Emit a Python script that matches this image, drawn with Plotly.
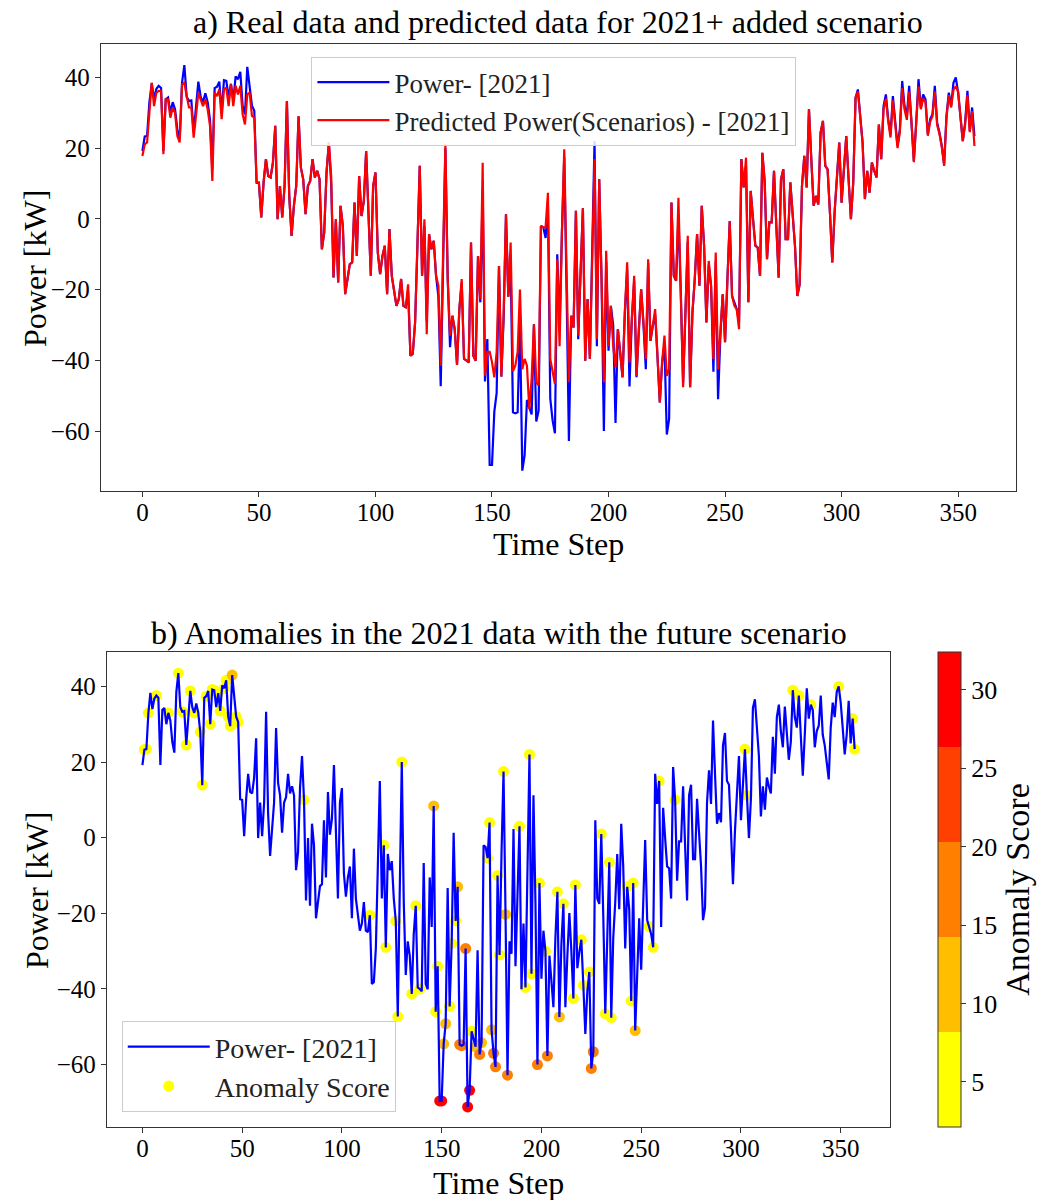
import plotly.graph_objects as go

# ---------------- data ----------------
time_step = list(range(358))

power_2021 = [
    19.2, 23.3, 23.4, 33.0, 38.3, 34.0, 36.8, 37.6, 37.0, 19.2,
    33.8, 34.3, 30.0, 33.0, 31.0, 25.3, 22.5, 38.5, 43.5, 34.5,
    33.3, 33.5, 24.5, 31.0, 38.8, 34.5, 33.0, 35.5, 33.0, 28.0,
    13.9, 37.0, 37.4, 38.8, 30.0, 39.2, 39.0, 34.5, 38.2, 33.5,
    40.3, 39.5, 41.6, 32.0, 29.5, 43.0, 38.0, 32.0, 30.6, 10.2,
    10.0, 0.4, 10.3, 16.9, 12.1, 11.7, 15.9, 26.3, -0.1, 9.3,
    0.4, 9.3, 33.3, 6.5, -4.8, 3.7, 9.3, 29.0, 14.5, 11.2,
    1.3, 9.3, 10.7, 16.9, 11.7, 13.6, 11.2, -8.6, -3.9, 13.1,
    21.6, 10.0, -16.6, -0.1, -18.0, 3.7, -2.0, -21.3, -17.0, -12.8,
    -12.3, 4.6, -10.5, 12.1, 0.8, 5.0, 19.2, 1.8, -16.1, 9.3,
    13.1, -9.5, -15.6, -10.5, -7.6, -21.3, -2.9, -16.1, -19.9, -24.6,
    -22.7, -17.0, -24.6, -25.0, -20.5, -38.7, -38.2, -29.3, -7.6, 15.0,
    -16.1, -2.0, -29.0, -4.3, -8.6, -6.2, -16.1, -22.0, -47.3, -12.0,
    20.0, -17.0, -36.3, -27.4, -31.2, -41.3, -25.5, -18.0, -39.6, -40.0,
    -40.6, -6.7, -38.7, -40.1, -10.5, -23.6, 8.4, -46.0, -34.0, -69.6,
    -69.6, -54.5, -49.2, -13.3, -44.6, -28.0, 1.3, -22.0, -13.0, -54.7,
    -55.0, -54.7, -29.3, -71.2, -66.8, -51.2, -53.3, -55.3, -29.8, -57.3,
    -54.2, -2.0, -2.4, -5.4, 4.0, -50.8, -57.0, -60.6, -10.0, -31.0,
    -3.9, 17.5, -20.3, -62.8, -27.4, -30.7, 2.3, -34.0, -15.2, 3.0,
    -40.1, -22.7, -39.6, -7.6, 22.0, -36.0, 11.2, -17.0, -60.0, -12.0,
    -37.3, -24.6, -30.0, -57.7, -31.2, -37.8, -44.8, -26.5, -14.3, -47.4,
    -28.3, -17.5, -44.8, -31.2, -19.9, -30.0, -42.5, -12.5, -34.5, -30.2,
    -27.0, -39.0, -51.9, -40.6, -35.5, -61.0, -56.6, 4.6, -16.1, -17.5,
    1.0, -20.8, -46.5, -26.5, -6.5, -47.6, -26.5, -17.0, -4.3, -18.9,
    3.7, -7.6, -29.3, -13.0, -18.9, -43.2, -12.0, -51.0, -33.0, -21.3,
    -34.9, -17.0, -0.6, -21.8, -23.5, -25.5, -29.0, 16.9, 8.9, 15.0,
    -23.6, 7.9, -0.1, -7.6, -8.1, -16.1, 18.7, 10.0, -11.4, -1.0,
    -1.0, 13.6, -2.0, -16.6, 11.2, 14.0, -5.7, -5.7, 10.3, 1.8,
    -7.6, -21.8, -18.5, 9.3, 17.8, 8.9, 31.0, 16.9, 3.7, 6.5,
    4.1, 24.4, 27.7, 15.0, 14.0, 1.8, -12.3, 1.8, 11.2, 21.6,
    4.6, 14.0, 23.4, 11.2, -0.1, 10.3, 34.3, 36.6, 29.0, 21.6,
    5.6, 13.6, 7.4, 15.9, 13.6, 11.7, 26.7, 16.9, 31.9, 35.2,
    28.2, 23.9, 34.7, 26.3, 20.6, 25.3, 39.0, 31.9, 29.1, 37.6,
    28.2, 16.4, 27.2, 39.5, 31.5, 35.2, 33.8, 23.9, 28.2, 29.6,
    37.6, 27.2, 24.4, 20.6, 15.4, 29.1, 35.7, 31.9, 38.5, 40.0,
    35.7, 29.1, 22.0, 27.2, 36.2, 24.9, 31.5, 23.4,
]

predicted_power = [
    17.8, 21.1, 21.6, 30.0, 38.5, 31.9, 35.7, 36.2, 36.2, 18.3,
    33.8, 33.8, 28.6, 31.5, 30.0, 23.4, 21.6, 38.0, 38.5, 34.7,
    31.5, 31.5, 23.0, 29.1, 35.7, 33.8, 31.9, 33.8, 31.0, 26.3,
    10.7, 35.7, 34.7, 36.6, 28.2, 36.6, 37.1, 31.9, 38.0, 31.9,
    37.6, 35.2, 37.6, 29.6, 26.7, 35.2, 35.7, 29.1, 28.6, 10.3,
    10.3, 0.4, 10.3, 16.9, 12.1, 11.7, 15.9, 26.3, -0.1, 9.3,
    0.4, 9.3, 33.3, 6.5, -4.8, 3.7, 9.3, 29.0, 14.5, 11.2,
    1.3, 9.3, 10.7, 16.9, 11.7, 13.6, 11.2, -8.6, -3.9, 13.1,
    21.6, 12.1, -16.6, -0.1, -18.0, 3.7, -2.0, -21.3, -17.0, -12.8,
    -12.3, 4.6, -10.5, 12.1, 0.8, 5.0, 19.2, 1.8, -16.1, 9.3,
    13.1, -9.5, -15.6, -10.5, -7.6, -21.3, -2.9, -16.1, -19.9, -24.6,
    -22.7, -17.0, -24.6, -25.0, -18.5, -38.7, -38.2, -29.3, -7.6, 15.0,
    -16.1, -0.1, -32.6, -4.3, -8.6, -6.2, -16.1, -18.9, -41.5, -12.0,
    21.1, -17.0, -33.0, -27.4, -31.2, -41.3, -25.5, -17.0, -39.6, -40.0,
    -40.6, -6.7, -38.7, -40.1, -10.5, -22.7, 15.9, -44.3, -37.6, -37.6,
    -40.5, -44.8, -37.6, -13.3, -44.6, -26.5, 1.3, -22.0, -6.7, -43.0,
    -41.5, -37.6, -20.0, -42.5, -39.6, -41.5, -53.8, -45.2, -29.8, -46.2,
    -47.1, -2.0, -2.4, -2.4, 7.4, -39.6, -43.4, -46.7, -11.4, -36.0,
    -3.9, 19.7, -15.0, -46.2, -27.4, -30.7, 2.3, -33.0, -15.2, 3.0,
    -40.1, -22.7, -39.6, -7.6, 16.9, -34.0, 11.2, -17.0, -46.2, -9.0,
    -36.0, -24.6, -36.0, -42.0, -31.2, -37.8, -44.8, -26.5, -12.3, -40.6,
    -28.3, -16.1, -44.4, -31.2, -19.9, -29.3, -39.6, -11.4, -34.5, -30.2,
    -25.5, -38.7, -51.9, -40.6, -33.0, -44.4, -42.5, 4.6, -16.1, -17.5,
    6.0, -20.8, -47.6, -26.5, -4.8, -47.6, -26.5, -17.0, -4.3, -18.9,
    3.7, -7.6, -29.3, -11.9, -18.9, -39.6, -9.5, -42.5, -33.0, -21.3,
    -34.9, -17.0, -0.6, -21.8, -24.6, -25.5, -31.2, 16.9, 8.9, 17.3,
    -23.6, 7.9, -0.1, -7.6, -8.1, -16.1, 18.7, 11.2, -11.4, -1.0,
    -1.0, 13.6, -2.0, -16.6, 11.2, 14.0, -5.7, -5.7, 10.3, 1.8,
    -7.6, -21.8, -18.5, 9.3, 17.8, 8.9, 31.0, 16.9, 3.7, 6.5,
    4.1, 24.4, 27.7, 15.0, 14.0, 1.8, -12.3, 1.8, 11.2, 21.6,
    4.6, 14.0, 23.4, 11.2, -0.1, 10.3, 34.3, 36.0, 29.0, 21.6,
    5.6, 13.6, 7.4, 15.9, 13.6, 11.7, 26.7, 16.9, 31.0, 34.0,
    27.5, 23.0, 33.5, 25.5, 20.0, 24.5, 37.0, 31.0, 28.0, 36.0,
    27.5, 16.0, 26.5, 37.5, 31.0, 34.0, 33.0, 23.5, 27.5, 29.0,
    36.0, 26.5, 24.0, 20.3, 15.0, 28.5, 35.0, 31.5, 36.5, 37.5,
    36.0, 29.0, 22.0, 26.5, 35.0, 24.5, 30.5, 20.6,
]

anomaly_index = [
    1, 2, 3, 7, 13, 18, 20, 22, 24, 26, 29, 30, 32, 34, 35, 36, 38, 39, 41, 42,
    43, 44, 45, 47, 48, 81, 114, 121, 122, 127, 128, 130, 135, 137, 139, 146,
    147, 148, 149, 150, 151, 152, 154, 155, 157, 158, 159, 160, 162, 163, 164,
    165, 167, 169, 170, 173, 174, 175, 176, 177, 178, 179, 181, 182, 183, 189,
    192, 194, 195, 198, 199, 202, 203, 208, 209, 211, 216, 217, 220, 221, 224,
    225, 226, 230, 232, 234, 235, 243, 245, 246, 247, 254, 256, 259, 267, 302,
    303, 326, 329, 335, 349, 356, 357,
]
anomaly_score = [
    4, 3, 5, 4, 3, 6, 4, 5, 4, 3, 4, 6, 3, 5, 4, 3, 4, 5, 3, 4,
    5, 4, 11, 3, 5, 4, 5, 4, 6, 5, 7, 6, 6, 5, 4, 10,
    7, 6, 31, 30, 12, 11, 6, 5, 5, 13, 15, 16, 15, 32.4, 30,
    7, 14, 17, 12, 5, 6, 12, 16, 18, 6, 5, 5, 11, 19, 4,
    6, 5, 5, 17, 5, 6, 18, 5, 12, 5, 6, 5, 5, 6, 6,
    19, 18, 4, 6, 5, 7, 5, 6, 5, 12, 5, 6, 4, 4, 4,
    3, 5, 3, 4, 5, 2.13, 4,
]
anomaly_power = [power_2021[i] for i in anomaly_index]

colorbar_ticks = [5, 10, 15, 20, 25, 30]
x_ticks = [0, 50, 100, 150, 200, 250, 300, 350]
y_ticks = [-60, -40, -20, 0, 20, 40]

# ---------------- figure ----------------
FONT = "Liberation Serif"
W, H = 1037, 1200

fig = go.Figure()

fig.add_trace(go.Scatter(x=time_step, y=power_2021, mode="lines", name="Power- [2021]",
                         line=dict(color="#0000ff", width=2.2), xaxis="x", yaxis="y",
                         legend="legend"))
fig.add_trace(go.Scatter(x=time_step, y=predicted_power, mode="lines",
                         name="Predicted Power(Scenarios) - [2021]",
                         line=dict(color="#ff0000", width=2.2), xaxis="x", yaxis="y",
                         legend="legend"))

scale = [[0, "#ffff00"], [0.2, "#ffff00"], [0.2, "#ffbf00"], [0.4, "#ffbf00"],
         [0.4, "#ff7f00"], [0.6, "#ff7f00"], [0.6, "#ff4000"], [0.8, "#ff4000"],
         [0.8, "#ff0000"], [1, "#ff0000"]]

fig.add_trace(go.Scatter(
    x=anomaly_index, y=anomaly_power, mode="markers", name="Anomaly Score",
    marker=dict(size=11, color=anomaly_score, colorscale=scale, cmin=2.13, cmax=32.4,
                line=dict(width=0),
                colorbar=dict(x=940 / W, xanchor="left", y=1 - 1127 / H, yanchor="bottom",
                              len=(1127 - 652) / H, lenmode="fraction", thickness=23,
                              thicknessmode="pixels", xpad=0, ypad=0,
                              outlinewidth=1, outlinecolor="#333333",
                              tickvals=colorbar_ticks, ticks="outside", ticklen=5,
                              tickcolor="#333333",
                              tickfont=dict(family=FONT, size=26, color="black"),
                              title=dict(text="Anomaly Score", side="right",
                                         font=dict(family=FONT, size=34, color="black")))),
    xaxis="x2", yaxis="y2", legend="legend2", legendrank=2))

fig.add_trace(go.Scatter(x=time_step, y=power_2021, mode="lines", name="Power- [2021]",
                         line=dict(color="#0000ff", width=2.2), xaxis="x2", yaxis="y2",
                         legend="legend2", legendrank=1))

axis_common = dict(showgrid=False, zeroline=False, showline=True, mirror=True,
                   linecolor="#333333", linewidth=1, ticks="outside", ticklen=5,
                   tickcolor="#333333", tickfont=dict(family=FONT, size=25, color="black"))

fig.update_layout(
    width=W, height=H, margin=dict(l=0, r=0, t=0, b=0),
    paper_bgcolor="white", plot_bgcolor="white",
    font=dict(family=FONT, color="black"),
    xaxis=dict(domain=[101 / W, 1018 / W], anchor="y", range=[-17.85, 374.85],
               tickvals=x_ticks, ticklabelstandoff=-6, **axis_common),
    yaxis=dict(domain=[1 - 491 / H, 1 - 44 / H], anchor="x", range=[-76.95, 49.45],
               tickvals=y_ticks, **axis_common),
    xaxis2=dict(domain=[107 / W, 892 / W], anchor="y2", range=[-17.85, 374.85],
                tickvals=x_ticks, ticklabelstandoff=-6, **axis_common),
    yaxis2=dict(domain=[1 - 1127 / H, 1 - 652 / H], anchor="x2", range=[-76.5, 49.1],
                tickvals=y_ticks, **axis_common),
    legend=dict(x=312 / W, y=1 - 57 / H, xanchor="left", yanchor="top",
                bgcolor="rgba(255,255,255,0.85)", bordercolor="#cccccc", borderwidth=1,
                itemwidth=72, tracegroupgap=0,
                font=dict(family=FONT, size=27, color="#222222")),
    legend2=dict(x=122 / W, y=1 - 1112 / H, xanchor="left", yanchor="bottom",
                 bgcolor="rgba(255,255,255,0.85)", bordercolor="#cccccc", borderwidth=1,
                 itemwidth=82, tracegroupgap=0,
                 font=dict(family=FONT, size=28, color="#222222"), traceorder="normal"),
    showlegend=True,
)

ann = [
    dict(text="a) Real data and predicted data for 2021+ added scenario",
         x=559.5 / W, y=1 - 22 / H, size=32, angle=0),
    dict(text="Time Step", x=559.5 / W, y=1 - 544 / H, size=32, angle=0),
    dict(text="Power [kW]", x=35 / W, y=1 - 268 / H, size=32, angle=-90),
    dict(text="b) Anomalies in the 2021 data with the future scenario",
         x=499.5 / W, y=1 - 633 / H, size=32, angle=0),
    dict(text="Time Step", x=499.5 / W, y=1 - 1183 / H, size=32, angle=0),
    dict(text="Power [kW]", x=37 / W, y=1 - 890 / H, size=32, angle=-90),
]
for a in ann:
    fig.add_annotation(text=a["text"], x=a["x"], y=a["y"], xref="paper", yref="paper",
                       xanchor="center", yanchor="middle", showarrow=False,
                       textangle=a["angle"], font=dict(family=FONT, size=a["size"], color="black"))

fig.write_html("out.html")
